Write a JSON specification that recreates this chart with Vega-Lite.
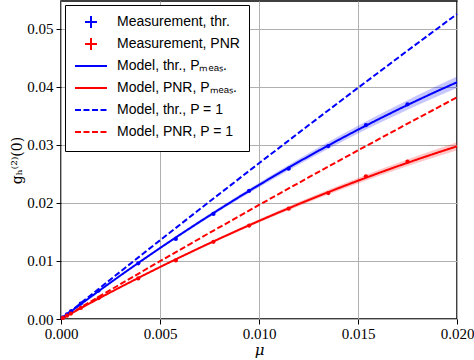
{
  "$schema": "https://vega.github.io/schema/vega-lite/v6.json",
  "width": 396,
  "height": 318,
  "autosize": {"type": "none"},
  "padding": {"left": 61, "top": 1, "right": 17, "bottom": 41},
  "background": "white",
  "datasets": {
    "meas": [
      {"mu": 0.0001, "g": 0.00026, "series": "Measurement, thr."},
      {"mu": 0.0003, "g": 0.00078, "series": "Measurement, thr."},
      {"mu": 0.0005, "g": 0.0013, "series": "Measurement, thr."},
      {"mu": 0.001, "g": 0.00265, "series": "Measurement, thr."},
      {"mu": 0.0019, "g": 0.0049, "series": "Measurement, thr."},
      {"mu": 0.0039, "g": 0.0096, "series": "Measurement, thr."},
      {"mu": 0.0058, "g": 0.0138, "series": "Measurement, thr."},
      {"mu": 0.0077, "g": 0.0181, "series": "Measurement, thr."},
      {"mu": 0.0095, "g": 0.0221, "series": "Measurement, thr."},
      {"mu": 0.0115, "g": 0.0259, "series": "Measurement, thr."},
      {"mu": 0.0135, "g": 0.0298, "series": "Measurement, thr."},
      {"mu": 0.0154, "g": 0.0334, "series": "Measurement, thr."},
      {"mu": 0.0175, "g": 0.037, "series": "Measurement, thr."},
      {"mu": 0.0001, "g": 0.00019, "series": "Measurement, PNR"},
      {"mu": 0.0003, "g": 0.00057, "series": "Measurement, PNR"},
      {"mu": 0.0005, "g": 0.00094, "series": "Measurement, PNR"},
      {"mu": 0.001, "g": 0.0019, "series": "Measurement, PNR"},
      {"mu": 0.0019, "g": 0.0036, "series": "Measurement, PNR"},
      {"mu": 0.0039, "g": 0.007, "series": "Measurement, PNR"},
      {"mu": 0.0058, "g": 0.0101, "series": "Measurement, PNR"},
      {"mu": 0.0077, "g": 0.0133, "series": "Measurement, PNR"},
      {"mu": 0.0095, "g": 0.0161, "series": "Measurement, PNR"},
      {"mu": 0.0115, "g": 0.019, "series": "Measurement, PNR"},
      {"mu": 0.0135, "g": 0.0217, "series": "Measurement, PNR"},
      {"mu": 0.0154, "g": 0.0246, "series": "Measurement, PNR"},
      {"mu": 0.0175, "g": 0.0271, "series": "Measurement, PNR"}
    ],
    "model": [
      {"mu": 0, "g": 0, "lo": 0, "hi": 0, "curve": "Model, thr., Pₘₑₐₛ."},
      {"mu": 0.001, "g": 0.002553, "lo": 0.002522, "hi": 0.002584, "curve": "Model, thr., Pₘₑₐₛ."},
      {"mu": 0.002, "g": 0.005052, "lo": 0.004988, "hi": 0.005116, "curve": "Model, thr., Pₘₑₐₛ."},
      {"mu": 0.003, "g": 0.007497, "lo": 0.007398, "hi": 0.007596, "curve": "Model, thr., Pₘₑₐₛ."},
      {"mu": 0.004, "g": 0.009888, "lo": 0.009752, "hi": 0.010024, "curve": "Model, thr., Pₘₑₐₛ."},
      {"mu": 0.005, "g": 0.012225, "lo": 0.01205, "hi": 0.0124, "curve": "Model, thr., Pₘₑₐₛ."},
      {"mu": 0.006, "g": 0.014508, "lo": 0.014292, "hi": 0.014724, "curve": "Model, thr., Pₘₑₐₛ."},
      {"mu": 0.007, "g": 0.016737, "lo": 0.016478, "hi": 0.016996, "curve": "Model, thr., Pₘₑₐₛ."},
      {"mu": 0.008, "g": 0.018912, "lo": 0.018608, "hi": 0.019216, "curve": "Model, thr., Pₘₑₐₛ."},
      {"mu": 0.009, "g": 0.021033, "lo": 0.020682, "hi": 0.021384, "curve": "Model, thr., Pₘₑₐₛ."},
      {"mu": 0.010, "g": 0.0231, "lo": 0.0227, "hi": 0.0235, "curve": "Model, thr., Pₘₑₐₛ."},
      {"mu": 0.011, "g": 0.025113, "lo": 0.024662, "hi": 0.025564, "curve": "Model, thr., Pₘₑₐₛ."},
      {"mu": 0.012, "g": 0.027072, "lo": 0.026568, "hi": 0.027576, "curve": "Model, thr., Pₘₑₐₛ."},
      {"mu": 0.013, "g": 0.028977, "lo": 0.028418, "hi": 0.029536, "curve": "Model, thr., Pₘₑₐₛ."},
      {"mu": 0.014, "g": 0.030828, "lo": 0.030212, "hi": 0.031444, "curve": "Model, thr., Pₘₑₐₛ."},
      {"mu": 0.015, "g": 0.032625, "lo": 0.03195, "hi": 0.0333, "curve": "Model, thr., Pₘₑₐₛ."},
      {"mu": 0.016, "g": 0.034368, "lo": 0.033632, "hi": 0.035104, "curve": "Model, thr., Pₘₑₐₛ."},
      {"mu": 0.017, "g": 0.036057, "lo": 0.035258, "hi": 0.036856, "curve": "Model, thr., Pₘₑₐₛ."},
      {"mu": 0.018, "g": 0.037692, "lo": 0.036828, "hi": 0.038556, "curve": "Model, thr., Pₘₑₐₛ."},
      {"mu": 0.019, "g": 0.039273, "lo": 0.038342, "hi": 0.040204, "curve": "Model, thr., Pₘₑₐₛ."},
      {"mu": 0.020, "g": 0.0408, "lo": 0.0398, "hi": 0.0418, "curve": "Model, thr., Pₘₑₐₛ."},
      {"mu": 0, "g": 0, "lo": 0, "hi": 0, "curve": "Model, PNR, Pₘₑₐₛ."},
      {"mu": 0.001, "g": 0.001872, "lo": 0.00185, "hi": 0.001894, "curve": "Model, PNR, Pₘₑₐₛ."},
      {"mu": 0.002, "g": 0.003703, "lo": 0.003658, "hi": 0.003748, "curve": "Model, PNR, Pₘₑₐₛ."},
      {"mu": 0.003, "g": 0.005494, "lo": 0.005425, "hi": 0.005563, "curve": "Model, PNR, Pₘₑₐₛ."},
      {"mu": 0.004, "g": 0.007245, "lo": 0.00715, "hi": 0.00734, "curve": "Model, PNR, Pₘₑₐₛ."},
      {"mu": 0.005, "g": 0.008955, "lo": 0.008832, "hi": 0.009078, "curve": "Model, PNR, Pₘₑₐₛ."},
      {"mu": 0.006, "g": 0.010625, "lo": 0.010474, "hi": 0.010776, "curve": "Model, PNR, Pₘₑₐₛ."},
      {"mu": 0.007, "g": 0.012254, "lo": 0.012073, "hi": 0.012435, "curve": "Model, PNR, Pₘₑₐₛ."},
      {"mu": 0.008, "g": 0.013843, "lo": 0.01363, "hi": 0.014056, "curve": "Model, PNR, Pₘₑₐₛ."},
      {"mu": 0.009, "g": 0.015392, "lo": 0.015146, "hi": 0.015638, "curve": "Model, PNR, Pₘₑₐₛ."},
      {"mu": 0.010, "g": 0.0169, "lo": 0.01662, "hi": 0.01718, "curve": "Model, PNR, Pₘₑₐₛ."},
      {"mu": 0.011, "g": 0.018368, "lo": 0.018052, "hi": 0.018684, "curve": "Model, PNR, Pₘₑₐₛ."},
      {"mu": 0.012, "g": 0.019795, "lo": 0.019442, "hi": 0.020148, "curve": "Model, PNR, Pₘₑₐₛ."},
      {"mu": 0.013, "g": 0.021182, "lo": 0.020791, "hi": 0.021573, "curve": "Model, PNR, Pₘₑₐₛ."},
      {"mu": 0.014, "g": 0.022529, "lo": 0.022098, "hi": 0.02296, "curve": "Model, PNR, Pₘₑₐₛ."},
      {"mu": 0.015, "g": 0.023835, "lo": 0.023362, "hi": 0.024308, "curve": "Model, PNR, Pₘₑₐₛ."},
      {"mu": 0.016, "g": 0.025101, "lo": 0.024586, "hi": 0.025616, "curve": "Model, PNR, Pₘₑₐₛ."},
      {"mu": 0.017, "g": 0.026326, "lo": 0.025767, "hi": 0.026885, "curve": "Model, PNR, Pₘₑₐₛ."},
      {"mu": 0.018, "g": 0.027511, "lo": 0.026906, "hi": 0.028116, "curve": "Model, PNR, Pₘₑₐₛ."},
      {"mu": 0.019, "g": 0.028656, "lo": 0.028004, "hi": 0.029308, "curve": "Model, PNR, Pₘₑₐₛ."},
      {"mu": 0.020, "g": 0.02976, "lo": 0.02906, "hi": 0.03046, "curve": "Model, PNR, Pₘₑₐₛ."},
      {"mu": 0, "g": 0, "curve": "Model, thr., P = 1"},
      {"mu": 0.0025, "g": 0.006815, "curve": "Model, thr., P = 1"},
      {"mu": 0.005, "g": 0.01356, "curve": "Model, thr., P = 1"},
      {"mu": 0.0075, "g": 0.020235, "curve": "Model, thr., P = 1"},
      {"mu": 0.010, "g": 0.02684, "curve": "Model, thr., P = 1"},
      {"mu": 0.0125, "g": 0.033375, "curve": "Model, thr., P = 1"},
      {"mu": 0.015, "g": 0.03984, "curve": "Model, thr., P = 1"},
      {"mu": 0.0175, "g": 0.046235, "curve": "Model, thr., P = 1"},
      {"mu": 0.020, "g": 0.05256, "curve": "Model, thr., P = 1"},
      {"mu": 0, "g": 0, "curve": "Model, PNR, P = 1"},
      {"mu": 0.0025, "g": 0.005016, "curve": "Model, PNR, P = 1"},
      {"mu": 0.005, "g": 0.009963, "curve": "Model, PNR, P = 1"},
      {"mu": 0.0075, "g": 0.014841, "curve": "Model, PNR, P = 1"},
      {"mu": 0.010, "g": 0.01965, "curve": "Model, PNR, P = 1"},
      {"mu": 0.0125, "g": 0.024391, "curve": "Model, PNR, P = 1"},
      {"mu": 0.015, "g": 0.029063, "curve": "Model, PNR, P = 1"},
      {"mu": 0.0175, "g": 0.033666, "curve": "Model, PNR, P = 1"},
      {"mu": 0.020, "g": 0.0382, "curve": "Model, PNR, P = 1"}
    ]
  },
  "encoding": {
    "x": {
      "field": "mu", "type": "quantitative",
      "scale": {"domain": [0, 0.02], "nice": false, "zero": false},
      "axis": {"values": [0, 0.005, 0.01, 0.015, 0.02], "format": ".3f", "title": "μ", "titleFontStyle": "italic", "titlePadding": 1, "labelPadding": 2, "titleFontSize": 15}
    }
  },
  "layer": [
    {
      "data": {"name": "model"},
      "transform": [{"filter": "isValid(datum.lo)"}],
      "mark": {"type": "area", "fillOpacity": 0.22},
      "encoding": {
        "y": {"field": "lo", "type": "quantitative"},
        "y2": {"field": "hi"},
        "fill": {
          "field": "curve", "type": "nominal", "legend": null,
          "scale": {
            "domain": ["Model, thr., Pₘₑₐₛ.", "Model, PNR, Pₘₑₐₛ.", "Measurement, thr.", "Measurement, PNR"],
            "range": ["#0000ff", "#ff0000", "#0000ff", "#ff0000"]
          }
        }
      }
    },
    {
      "data": {"name": "model"},
      "mark": {"type": "line", "strokeWidth": 2},
      "encoding": {
        "y": {
          "field": "g", "type": "quantitative",
          "scale": {"domain": [0, 0.0548], "nice": false},
          "axis": {"values": [0, 0.01, 0.02, 0.03, 0.04, 0.05], "format": ".2f", "title": "gₕ⁽²⁾(0)", "titlePadding": 2, "titleFontSize": 14}
        },
        "stroke": {
          "field": "curve", "type": "nominal", "legend": null,
          "scale": {
            "domain": ["Model, thr., Pₘₑₐₛ.", "Model, PNR, Pₘₑₐₛ.", "Model, thr., P = 1", "Model, PNR, P = 1"],
            "range": ["#0000ff", "#ff0000", "#0000ff", "#ff0000"]
          }
        },
        "strokeDash": {
          "field": "curve", "type": "nominal", "legend": null,
          "scale": {
            "domain": ["Model, thr., Pₘₑₐₛ.", "Model, PNR, Pₘₑₐₛ.", "Model, thr., P = 1", "Model, PNR, P = 1"],
            "range": [[1, 0], [1, 0], [6, 2.6], [6, 2.6]]
          }
        }
      }
    },
    {
      "data": {"name": "meas"},
      "mark": {"type": "circle", "size": 18, "opacity": 1},
      "encoding": {
        "y": {"field": "g", "type": "quantitative"},
        "fill": {"field": "series", "type": "nominal", "legend": null}
      }
    },
    {
      "data": {"name": "meas"},
      "mark": {"type": "point", "filled": false, "opacity": 0},
      "encoding": {
        "y": {"field": "g", "type": "quantitative"},
        "color": {
          "field": "series", "type": "nominal",
          "scale": {
            "domain": ["Measurement, thr.", "Measurement, PNR", "Model, thr., Pₘₑₐₛ.", "Model, PNR, Pₘₑₐₛ.", "Model, thr., P = 1", "Model, PNR, P = 1"],
            "range": ["#0000ff", "#ff0000", "#0000ff", "#ff0000", "#0000ff", "#ff0000"]
          },
          "legend": {
            "title": null, "orient": "top-left", "offset": 4, "padding": 9,
            "fillColor": "white", "strokeColor": "black", "cornerRadius": 0,
            "labelFont": "Liberation Sans", "labelFontSize": 14, "labelColor": "black",
            "symbolSize": 196, "symbolStrokeWidth": 2, "symbolOpacity": 1,
            "labelOffset": 27, "rowPadding": 2, "labelLimit": 300
          }
        },
        "shape": {
          "field": "series", "type": "nominal",
          "scale": {
            "domain": ["Measurement, thr.", "Measurement, PNR", "Model, thr., Pₘₑₐₛ.", "Model, PNR, Pₘₑₐₛ.", "Model, thr., P = 1", "Model, PNR, P = 1"],
            "range": [
              "M0.429,0H2.143M1.286,-0.857V0.857",
              "M0.429,0H2.143M1.286,-0.857V0.857",
              "M-1,0H3.571M1.286,-0.857L1.286,-0.857M1.286,0.857L1.286,0.857",
              "M-1,0H3.571M1.286,-0.857L1.286,-0.857M1.286,0.857L1.286,0.857",
              "M-1,0H-0.143M0.214,0H1.071M1.429,0H2.286M2.643,0H3.5M1.286,-0.857L1.286,-0.857M1.286,0.857L1.286,0.857",
              "M-1,0H-0.143M0.214,0H1.071M1.429,0H2.286M2.643,0H3.5M1.286,-0.857L1.286,-0.857M1.286,0.857L1.286,0.857"
            ]
          }
        }
      }
    }
  ],
  "config": {
    "view": {"stroke": "black", "strokeWidth": 1.5},
    "axis": {
      "domain": false, "grid": true, "gridColor": "#b0b0b0", "gridWidth": 1,
      "ticks": true, "tickColor": "black", "tickSize": 5, "tickWidth": 1,
      "labelFont": "Liberation Serif", "labelFontSize": 15, "labelColor": "black", "labelPadding": 3,
      "titleFont": "DejaVu Serif", "titleFontSize": 16, "titleFontWeight": "normal", "titleColor": "black"
    },
    "axisX": {"labelOverlap": false, "labelFlush": false}
  }
}
